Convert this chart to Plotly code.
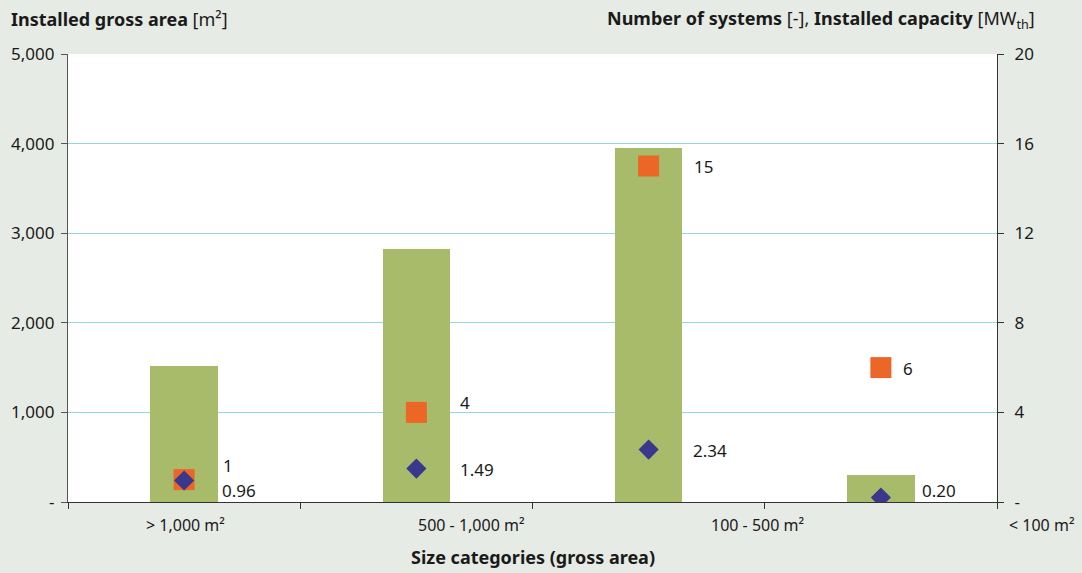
import plotly.graph_objects as go

# Size categories of the installed collector fields
categories = ["> 1,000 m²", "500 - 1,000 m²", "100 - 500 m²", "< 100 m²"]
gross_area_m2 = [1520, 2820, 3950, 300]
num_systems = [1, 4, 15, 6]
capacity_mwth = [0.96, 1.49, 2.34, 0.20]

# Tick labels
left_tickvals = [0, 1000, 2000, 3000, 4000, 5000]
left_ticktext = ["-", "1,000", "2,000", "3,000", "4,000", "5,000"]
right_tickvals = [0, 4, 8, 12, 16, 20]
right_ticktext = ["-", "4", "8", "12", "16", "20"]

# Layout helpers (pixel offsets for value labels, paper anchors for category labels)
systems_label_offsets = [(37, 14), (42, 10), (43, 0), (20, -1)]
capacity_label_offsets = [(36, -10), (42, -1), (42, -1), (39, 7)]
category_label_x = [0.126, 0.434, 0.742, 1.0485]

FONT = "Noto Sans"
BAR_COLOR = "#a8bb6b"
SQUARE_COLOR = "#ec6628"
DIAMOND_COLOR = "#39388c"
GRID_COLOR = "#96d6de"
TEXT_COLOR = "#1a1a1a"

x = list(range(len(categories)))

fig = go.Figure()

fig.add_trace(go.Bar(
    x=x, y=gross_area_m2, width=0.29,
    marker=dict(color=BAR_COLOR, line=dict(width=0)),
    name="Installed gross area", yaxis="y",
))

fig.add_trace(go.Scatter(
    x=x, y=num_systems, mode="markers",
    marker=dict(symbol="square", size=21, color=SQUARE_COLOR, line=dict(width=0)),
    name="Number of systems", yaxis="y2",
))

fig.add_trace(go.Scatter(
    x=x, y=capacity_mwth, mode="markers",
    marker=dict(symbol="diamond", size=15.5, color=DIAMOND_COLOR, line=dict(width=0)),
    name="Installed capacity", yaxis="y2",
))

annotations = []

# Value labels next to the markers
for xi, v, (dx, dy) in zip(x, num_systems, systems_label_offsets):
    annotations.append(dict(
        x=xi, y=v, xref="x", yref="y2", text=f"{v}", showarrow=False,
        xanchor="left", yanchor="middle", xshift=dx, yshift=dy,
        font=dict(family=FONT, size=17, color=TEXT_COLOR),
    ))
for xi, v, (dx, dy) in zip(x, capacity_mwth, capacity_label_offsets):
    annotations.append(dict(
        x=xi, y=v, xref="x", yref="y2", text=f"{v:.2f}", showarrow=False,
        xanchor="left", yanchor="middle", xshift=dx, yshift=dy,
        font=dict(family=FONT, size=17, color=TEXT_COLOR),
    ))

# Category labels below the axis
for cx, label in zip(category_label_x, categories):
    annotations.append(dict(
        x=cx, y=0, xref="paper", yref="paper", text=label, showarrow=False,
        xanchor="center", yanchor="middle", yshift=-23,
        font=dict(family=FONT, size=16, color=TEXT_COLOR),
    ))

# Axis titles
annotations.append(dict(
    x=-0.0635, y=1.078, xref="paper", yref="paper",
    text="<b>Installed gross area</b> [m²]", showarrow=False,
    xanchor="left", yanchor="middle",
    font=dict(family=FONT, size=18, color=TEXT_COLOR),
))
annotations.append(dict(
    x=1.0430, y=1.078, xref="paper", yref="paper",
    text="<b>Number of systems</b> [-], <b>Installed capacity</b> [MW<sub>th</sub>]",
    showarrow=False, xanchor="right", yanchor="middle",
    font=dict(family=FONT, size=18, color=TEXT_COLOR),
))
annotations.append(dict(
    x=0.5, y=0, xref="paper", yref="paper",
    text="<b>Size categories (gross area)</b>", showarrow=False,
    xanchor="center", yanchor="middle", yshift=-55,
    font=dict(family=FONT, size=18, color=TEXT_COLOR),
))

fig.update_layout(
    width=1082, height=573,
    margin=dict(l=68, r=85, t=54, b=71, pad=0),
    paper_bgcolor="#e7ebe5",
    plot_bgcolor="#ffffff",
    showlegend=False,
    font=dict(family=FONT, size=17, color=TEXT_COLOR),
    bargap=0,
    xaxis=dict(
        range=[-0.5, len(categories) - 0.5],
        tickvals=[i - 0.5 for i in range(len(categories) + 1)],
        showticklabels=False, ticks="outside", ticklen=6, tickcolor="#333333",
        showgrid=False, zeroline=False,
        showline=True, linecolor="#333333", linewidth=1.2,
        fixedrange=True,
    ),
    yaxis=dict(
        range=[0, 5000], tickvals=left_tickvals, ticktext=left_ticktext,
        ticks="outside", ticklen=6, tickcolor="#555555",
        ticklabelstandoff=3,
        showgrid=True, gridcolor=GRID_COLOR, gridwidth=1.3,
        zeroline=False, showline=True, linecolor="#555555", linewidth=1.2,
        tickfont=dict(family=FONT, size=17, color=TEXT_COLOR),
    ),
    yaxis2=dict(
        range=[0, 20], tickvals=right_tickvals, ticktext=right_ticktext,
        overlaying="y", side="right",
        ticks="outside", ticklen=6, tickcolor="#333333",
        ticklabelstandoff=7,
        showgrid=False, zeroline=False,
        showline=True, linecolor="#333333", linewidth=1.2,
        tickfont=dict(family=FONT, size=17, color=TEXT_COLOR),
    ),
    annotations=annotations,
)

fig.write_html("out.html")
